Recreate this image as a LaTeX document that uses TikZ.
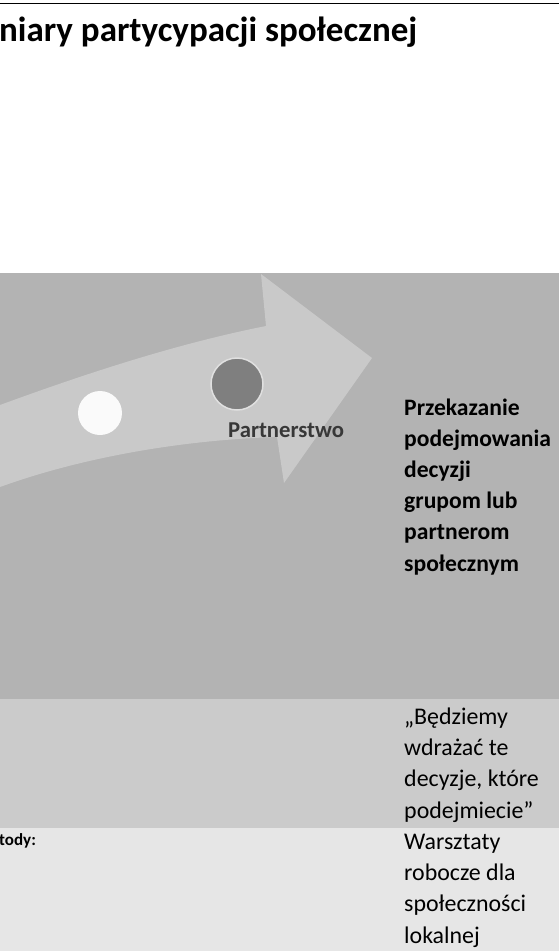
\documentclass[tikz,border=0pt]{standalone}
\usepackage{fontspec}
\setmainfont{Carlito}
\definecolor{bandDark}{HTML}{B3B3B3}
\definecolor{bandMid}{HTML}{CBCBCB}
\definecolor{bandLight}{HTML}{E6E6E6}
\definecolor{arrowFill}{HTML}{C9C9C9}
\definecolor{dotDark}{HTML}{7F7F7F}
\begin{document}
\begin{tikzpicture}[x=1pt,y=-1pt,
    celltext/.style={anchor=base west,inner sep=0pt,align=left,
      font=\fontsize{23.9}{31.3}\selectfont},
    dot/.style={circle,inner sep=0pt}]
    \useasboundingbox (0,0) rectangle (559,951);
    \clip (0,0) rectangle (559,951);
	%% Title and rule
	\draw [line width=1pt] (0,3.3) -- (559,3.3);
	\node (title) [anchor=base west,inner sep=0pt,
	  font=\fontsize{35}{40}\selectfont\bfseries] at (-1,41)
	  {niary partycypacji społecznej};

	%% Table rows
	\fill [bandDark] (0,273) rectangle (559,699);
	\fill [bandMid] (0,699) rectangle (559,828);
	\fill [bandLight] (0,828) rectangle (559,951);

	%% Arrow
	\fill [arrowFill] (0,405) .. controls (90,372) and (180,343) .. (266,326)
	  -- (261,274) -- (372,358) -- (284,483) -- (277,437)
	  .. controls (180,440) and (80,458) .. (0,487) -- cycle;
	\node (dot1) [dot,fill=white!98!black,minimum size=44pt] at (100,413) {};
	\node (dot2) [dot,fill=dotDark,draw=white!88!black,line width=1.5pt,
	  minimum size=52pt] at (237,384) {};
	\node (partner) [anchor=base west,inner sep=0pt,text=black!78,
	  font=\fontsize{22.7}{26}\selectfont\bfseries] at (228,437.5) {Partnerstwo};

	%% Right column texts (anchored at last line)
	\node (goal) [celltext,font=\fontsize{23.6}{31.2}\selectfont\bfseries]
	  at (404,571)
	  {Przekazanie\\podejmowania\\decyzji\\grupom lub\\partnerom\\społecznym};
	\node (promise) [celltext] at (404,818)
	  {„Będziemy\\wdrażać te\\decyzje, które\\podejmiecie”};
	\node (methods) [anchor=base west,inner sep=0pt,
	  font=\fontsize{17}{20}\selectfont\bfseries] at (-1,845) {tody:};
	\node (workshop) [celltext] at (404,943)
	  {Warsztaty\\robocze dla\\społeczności\\lokalnej};
  \end{tikzpicture}
\end{document}
